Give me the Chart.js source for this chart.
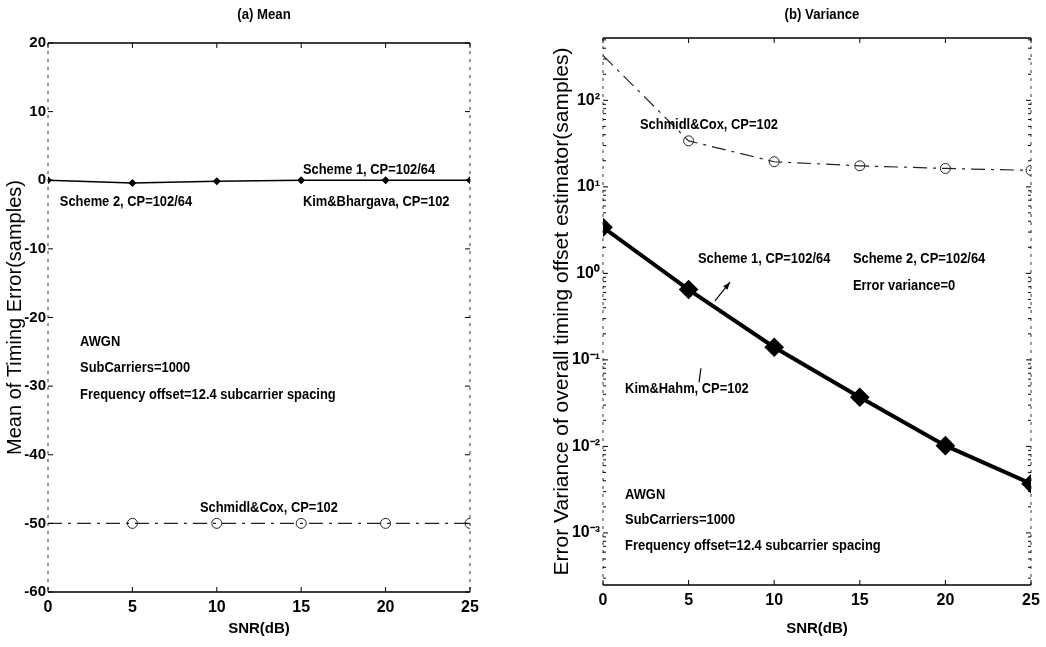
<!DOCTYPE html>
<html>
<head>
<meta charset="utf-8">
<script src="https://cdn.jsdelivr.net/npm/chart.js@4.4.0/dist/chart.umd.min.js"></script>
<style>
  body { margin: 0; background: #fff; }
  #wrap { position: relative; width: 1046px; height: 647px; }
  #meanBox { position: absolute; left: 0; top: 0; width: 525px; height: 647px; }
  #varBox { position: absolute; left: 530px; top: 0; width: 516px; height: 647px; }
</style>
</head>
<body>
<div id="wrap">
  <div id="meanBox"><canvas id="meanChart"></canvas></div>
  <div id="varBox"><canvas id="varChart"></canvas></div>
</div>
<script>
// values
const snr = [0, 5, 10, 15, 20, 25];
const meanScheme = [0, -0.4, -0.15, 0, 0, 0];
const meanSchmidl = [-50, -50, -50, -50, -50, -50];
const varScheme1 = [3.4, 0.65, 0.14, 0.037, 0.0102, 0.0037];
const varSchmidl = [330, 34, 19.5, 17.5, 16.3, 15.5];

const snrTicks = [0, 5, 10, 15, 20, 25];
const meanTicks = [-60, -50, -40, -30, -20, -10, 0, 10, 20];
const varTicks = [1e-3, 1e-2, 1e-1, 1, 10, 100];
const varTickLabels = ['10⁻³', '10⁻²', '10⁻¹', '10⁰', '10¹', '10²'];

const FONT = "'Liberation Sans', Arial, sans-serif";

// text notes, placed in data units
const meanNotes = [
  { text: 'Scheme 1, CP=102/64', x: 15.1, y: 1.5 },
  { text: 'Kim&Bhargava, CP=102', x: 15.1, y: -3.1 },
  { text: 'Scheme 2, CP=102/64', x: 0.7, y: -3.1 },
  { text: 'AWGN', x: 1.9, y: -23.6 },
  { text: 'SubCarriers=1000', x: 1.9, y: -27.4 },
  { text: 'Frequency offset=12.4 subcarrier spacing', x: 1.9, y: -31.2 },
  { text: 'Schmidl&Cox, CP=102', x: 9.0, y: -47.8 }
];
const varNotes = [
  { text: 'Schmidl&Cox, CP=102', x: 2.16, y: 52 },
  { text: 'Scheme 1, CP=102/64', x: 5.55, y: 1.47 },
  { text: 'Scheme 2, CP=102/64', x: 14.6, y: 1.47 },
  { text: 'Error variance=0', x: 14.6, y: 0.72 },
  { text: 'Kim&Hahm, CP=102', x: 1.29, y: 0.046 },
  { text: 'AWGN', x: 1.29, y: 0.00275 },
  { text: 'SubCarriers=1000', x: 1.29, y: 0.00141 },
  { text: 'Frequency offset=12.4 subcarrier spacing', x: 1.29, y: 0.000708 }
];
const varStrokes = [
  { x1: 6.54, y1: 0.48, x2: 7.42, y2: 0.79, arrow: true },
  { x1: 5.72, y1: 0.08, x2: 5.61, y2: 0.055, arrow: false }
];

const pts = (xs, ys) => xs.map((x, i) => ({ x: x, y: ys[i] }));

// box, inward ticks, panel title and text notes (MATLAB look)
const frameLines = {
  id: 'frameLines',
  afterDatasetsDraw(chart, args, opts) {
    const { ctx, chartArea: a, scales } = chart;
    const xs = scales.x, ys = scales.y;
    ctx.save();
    ctx.strokeStyle = '#000';
    ctx.lineWidth = 1.3;
    ctx.beginPath();
    ctx.moveTo(a.left, a.top); ctx.lineTo(a.right, a.top);
    ctx.moveTo(a.left, a.bottom); ctx.lineTo(a.right, a.bottom);
    ctx.stroke();
    ctx.lineWidth = 1;
    ctx.strokeStyle = '#333';
    ctx.setLineDash([3, 5]);
    ctx.beginPath();
    ctx.moveTo(a.left, a.top); ctx.lineTo(a.left, a.bottom);
    ctx.moveTo(a.right, a.top); ctx.lineTo(a.right, a.bottom);
    ctx.stroke();
    ctx.setLineDash([]);
    ctx.strokeStyle = '#000';
    ctx.beginPath();
    xs.ticks.forEach(t => {
      const p = xs.getPixelForValue(t.value);
      ctx.moveTo(p, a.bottom); ctx.lineTo(p, a.bottom - 5);
      ctx.moveTo(p, a.top); ctx.lineTo(p, a.top + 5);
    });
    ys.ticks.forEach(t => {
      const p = ys.getPixelForValue(t.value);
      ctx.moveTo(a.left, p); ctx.lineTo(a.left + 5, p);
      ctx.moveTo(a.right, p); ctx.lineTo(a.right - 5, p);
    });
    ctx.stroke();
    if (opts.minor) {
      ctx.beginPath();
      for (let d = -4; d <= 2; d++) {
        for (let k = 2; k <= 9; k++) {
          const v = k * Math.pow(10, d);
          if (v < ys.min || v > ys.max) continue;
          const p = ys.getPixelForValue(v);
          ctx.moveTo(a.left, p); ctx.lineTo(a.left + 3, p);
          ctx.moveTo(a.right, p); ctx.lineTo(a.right - 3, p);
        }
      }
      ctx.stroke();
    }
    (opts.strokes || []).forEach(s => {
      const x1 = xs.getPixelForValue(s.x1), y1 = ys.getPixelForValue(s.y1);
      const x2 = xs.getPixelForValue(s.x2), y2 = ys.getPixelForValue(s.y2);
      ctx.lineWidth = 1.2;
      ctx.beginPath(); ctx.moveTo(x1, y1); ctx.lineTo(x2, y2); ctx.stroke();
      if (s.arrow) {
        const ang = Math.atan2(y2 - y1, x2 - x1);
        ctx.beginPath();
        ctx.moveTo(x2, y2);
        ctx.lineTo(x2 - 8 * Math.cos(ang - 0.35), y2 - 8 * Math.sin(ang - 0.35));
        ctx.lineTo(x2 - 8 * Math.cos(ang + 0.35), y2 - 8 * Math.sin(ang + 0.35));
        ctx.closePath();
        ctx.fillStyle = '#000';
        ctx.fill();
      }
    });
    ctx.fillStyle = '#000';
    ctx.textBaseline = 'middle';
    // panel title, centred over the plot box
    ctx.font = 'bold 15px ' + FONT;
    ctx.textAlign = 'center';
    ctx.save();
    ctx.translate((a.left + a.right) / 2 + 5, 15);
    ctx.scale(0.88, 1);
    ctx.fillText(opts.title, 0, 0);
    ctx.restore();
    // notes, condensed like the original narrow face
    ctx.font = 'bold 15px ' + FONT;
    ctx.textAlign = 'left';
    opts.notes.forEach(n => {
      ctx.save();
      ctx.translate(xs.getPixelForValue(n.x), ys.getPixelForValue(n.y));
      ctx.scale(0.86, 1);
      ctx.fillText(n.text, 0, 0);
      ctx.restore();
    });
    ctx.restore();
  }
};

const xAxis = (h) => ({
  type: 'linear',
  min: 0,
  max: 25,
  afterBuildTicks: s => { s.ticks = snrTicks.map(v => ({ value: v })); },
  afterFit: s => { s.height = h; s.paddingLeft = 0; s.paddingRight = 0; },
  grid: { display: false, drawTicks: false },
  border: { display: false },
  ticks: { color: '#000', padding: 6, font: { family: FONT, size: 16, weight: 'bold' } },
  title: { display: true, text: 'SNR(dB)', color: '#000', padding: { top: 0, bottom: 9 },
           font: { family: FONT, size: 15, weight: 'bold' } }
});

new Chart(document.getElementById('meanChart').getContext('2d'), {
  type: 'line',
  data: {
    datasets: [
      {
        label: 'Scheme 1 / Scheme 2 / Kim&Bhargava, CP=102/64',
        data: pts(snr, meanScheme),
        borderColor: '#000',
        borderWidth: 1.5,
        pointStyle: 'rectRot',
        pointRadius: 3,
        pointBackgroundColor: '#000',
        pointBorderColor: '#000'
      },
      {
        label: 'Schmidl&Cox, CP=102',
        data: pts(snr, meanSchmidl),
        borderColor: '#222',
        borderWidth: 1.2,
        borderDash: [14, 6, 3, 6],
        pointStyle: 'circle',
        pointRadius: [0, 5, 5, 5, 5, 5],
        pointBackgroundColor: 'rgba(0,0,0,0)',
        pointBorderColor: '#222',
        pointBorderWidth: 1
      }
    ]
  },
  options: {
    responsive: true,
    maintainAspectRatio: false,
    animation: false,
    layout: { padding: { left: 0, right: 55, top: 43, bottom: 0 } },
    plugins: {
      legend: { display: false },
      tooltip: { enabled: false },
      frameLines: { title: '(a) Mean', notes: meanNotes, minor: false }
    },
    scales: {
      x: xAxis(55),
      y: {
        type: 'linear',
        min: -60,
        max: 20,
        afterBuildTicks: s => { s.ticks = meanTicks.map(v => ({ value: v })); },
        afterFit: s => { s.width = 48; s.paddingTop = 0; s.paddingBottom = 0; },
        grid: { display: false, drawTicks: false },
        border: { display: false },
        ticks: { color: '#000', padding: 2, font: { family: FONT, size: 15, weight: 'bold' } },
        title: { display: true, text: 'Mean of Timing Error(samples)', color: '#000',
                 padding: { top: 3, bottom: 0 }, font: { family: FONT, size: 20 } }
      }
    }
  },
  plugins: [frameLines]
});

new Chart(document.getElementById('varChart').getContext('2d'), {
  type: 'line',
  data: {
    datasets: [
      {
        label: 'Scheme 1, CP=102/64',
        data: pts(snr, varScheme1),
        borderColor: '#000',
        borderWidth: 4,
        pointStyle: 'rectRot',
        pointRadius: 7,
        pointBackgroundColor: '#000',
        pointBorderColor: '#000'
      },
      {
        label: 'Schmidl&Cox, CP=102',
        data: pts(snr, varSchmidl),
        borderColor: '#222',
        borderWidth: 1.2,
        borderDash: [14, 6, 3, 6],
        pointStyle: 'circle',
        pointRadius: [0, 5, 5, 5, 5, 5],
        pointBackgroundColor: 'rgba(0,0,0,0)',
        pointBorderColor: '#222',
        pointBorderWidth: 1
      }
    ]
  },
  options: {
    responsive: true,
    maintainAspectRatio: false,
    animation: false,
    layout: { padding: { left: 0, right: 15, top: 38, bottom: 0 } },
    plugins: {
      legend: { display: false },
      tooltip: { enabled: false },
      frameLines: { title: '(b) Variance', notes: varNotes, strokes: varStrokes, minor: true }
    },
    scales: {
      x: xAxis(62),
      y: {
        type: 'logarithmic',
        min: 2.5e-4,
        max: 525,
        afterBuildTicks: s => { s.ticks = varTicks.map(v => ({ value: v })); },
        afterFit: s => { s.width = 73; s.paddingTop = 0; s.paddingBottom = 0; },
        grid: { display: false, drawTicks: false },
        border: { display: false },
        ticks: {
          color: '#000',
          padding: 3,
          font: { family: FONT, size: 16, weight: 'bold' },
          callback: (v) => {
            const i = varTicks.findIndex(t => Math.abs(t - v) / t < 1e-6);
            return i >= 0 ? varTickLabels[i] : '';
          }
        },
        title: { display: true, text: 'Error Variance of overall timing offset estimator(samples)', color: '#000',
                 padding: { top: 20, bottom: 0 }, font: { family: FONT, size: 21 } }
      }
    }
  },
  plugins: [frameLines]
});
</script>
</body>
</html>
